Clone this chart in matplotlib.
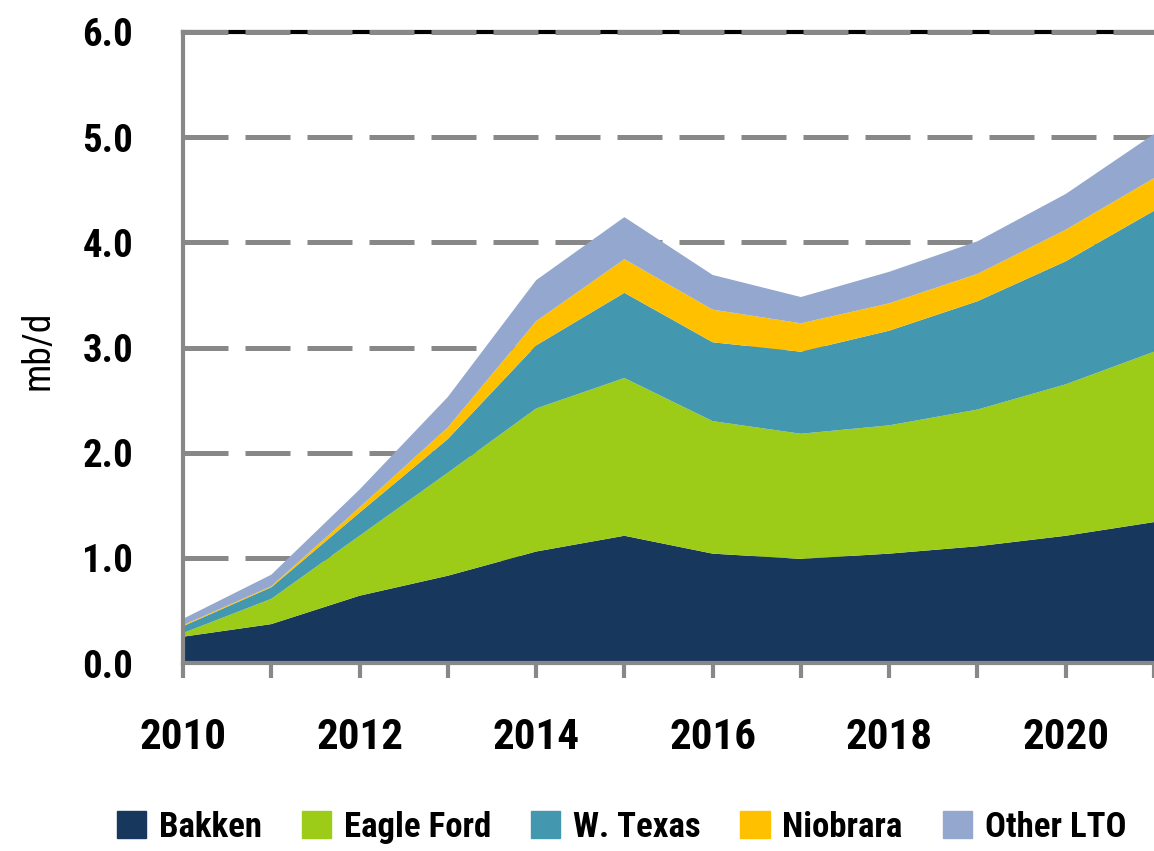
import numpy as np
import matplotlib
matplotlib.use('Agg')
import matplotlib.pyplot as plt
from matplotlib.patches import Rectangle
from matplotlib import font_manager

# pick a narrow font if there is one
have = {f.name for f in font_manager.fontManager.ttflist}
fam = 'DejaVu Sans'
for name in ['Liberation Sans Narrow', 'Roboto Condensed', 'Open Sans Condensed',
             'DejaVu Sans Condensed', 'Liberation Sans']:
    if name in have:
        fam = name
        break
plt.rcParams['font.family'] = [fam, 'DejaVu Sans']

# data (mb/d)
years = [2010, 2011, 2012, 2013, 2014, 2015, 2016, 2017, 2018, 2019, 2020, 2021]
bakken = [0.25, 0.37, 0.64, 0.83, 1.06, 1.21, 1.04, 0.99, 1.04, 1.11, 1.21, 1.34]
eagle_ford = [0.035, 0.24, 0.57, 0.98, 1.36, 1.50, 1.26, 1.19, 1.22, 1.30, 1.44, 1.62]
w_texas = [0.065, 0.11, 0.22, 0.32, 0.60, 0.81, 0.75, 0.78, 0.90, 1.03, 1.17, 1.34]
niobrara = [0.01, 0.01, 0.05, 0.11, 0.23, 0.32, 0.31, 0.27, 0.26, 0.26, 0.30, 0.31]
other_lto = [0.06, 0.11, 0.17, 0.29, 0.39, 0.40, 0.33, 0.25, 0.30, 0.31, 0.34, 0.42]

labels = ['Bakken', 'Eagle Ford', 'W. Texas', 'Niobrara', 'Other LTO']
colors = ['#18375d', '#9ccc18', '#4398b0', '#ffc000', '#94a8cf']

fig = plt.figure(figsize=(11.54, 8.51), dpi=100)
ax = fig.add_axes([0.1586, 0.2209, 0.8414, 0.7415])

ax.stackplot(years, bakken, eagle_ford, w_texas, niobrara, other_lto,
             colors=colors, zorder=1)

ax.set_xlim(2010, 2020.95)
ax.set_ylim(0, 6)

# dashed grid
for v in [1, 2, 3, 4, 5, 6]:
    ax.axhline(v, color='#888888', lw=3.6, ls=(0, (9, 3.4)), zorder=0.5,
               clip_on=False)

ax.spines['right'].set_visible(False)
ax.spines['top'].set_color('black')
ax.spines['top'].set_linewidth(3)
ax.spines['top'].set_zorder(0.4)
for s in ['left', 'bottom']:
    ax.spines[s].set_color('#888888')
    ax.spines[s].set_linewidth(3)
    ax.spines[s].set_zorder(3)

ax.set_yticks(np.arange(0, 7, 1))
ax.set_yticklabels(['%.1f' % v for v in np.arange(0, 7, 1)])
ax.set_xticks(years)
ax.set_xticklabels([str(y) if y % 2 == 0 else '' for y in years])

ax.tick_params(axis='y', length=0, pad=36, labelsize=28)
ax.tick_params(axis='x', length=11, width=3, color='#888888', direction='out',
               pad=28, labelsize=31)
for t in ax.get_xticklabels() + ax.get_yticklabels():
    t.set_fontweight('bold')

fig.text(0.033, 0.588, 'mb/d', rotation=90, ha='center', va='center',
         fontsize=27)

handles = [Rectangle((0, 0), 1, 1, color=c) for c in colors]
fig.legend(handles, labels, loc='lower left', bbox_to_anchor=(0.074, -0.028),
           ncol=5, frameon=False, handlelength=0.85,
           handleheight=0.85, handletextpad=0.36, columnspacing=1.15,
           prop={'weight': 'bold', 'size': 25})

fig.savefig('out.png', dpi=100)
